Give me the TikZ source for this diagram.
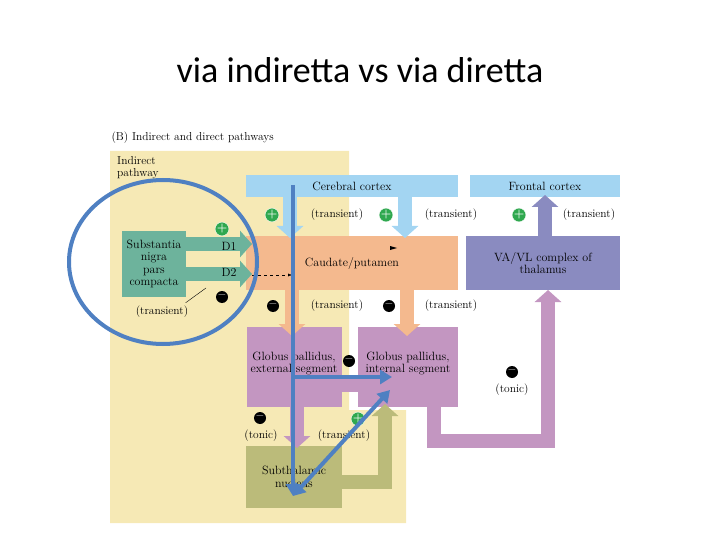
\documentclass[tikz,border=0pt]{standalone}
\usepackage{fontspec}
\newfontfamily\titlefont{Carlito}
\usetikzlibrary{arrows.meta,positioning}
\definecolor{cortexblue}{HTML}{A3D5F2}
\definecolor{caudate}{HTML}{F4B98E}
\definecolor{thal}{HTML}{8A8BC0}
\definecolor{gpcol}{HTML}{C396C1}
\definecolor{stncol}{HTML}{BBBB7A}
\definecolor{sncol}{HTML}{6DB39C}
\definecolor{bgyel}{HTML}{F6E9B5}
\definecolor{pen}{HTML}{4F80C2}
\definecolor{plusgreen}{HTML}{2FA84F}
\tikzset{
  box/.style={inner sep=0pt, align=center, font=\fontsize{12}{12.5}\selectfont},
  lbl/.style={font=\fontsize{11.5}{12}\selectfont},
  fat/.style={line width=14pt, -{Triangle[width=26pt,length=12pt]}},
  plus/.style={circle, fill=plusgreen, draw=white, inner sep=0pt, minimum size=12pt,
    font=\bfseries\fontsize{12}{12}\selectfont, text=white},
  minus/.style={circle, fill=black, inner sep=0pt, minimum size=12pt,
    font=\bfseries\fontsize{12}{12}\selectfont, text=white},
  penarrow/.style={pen, line width=4pt, -{Triangle[width=14pt,length=12pt]}}
}
\begin{document}
\begin{tikzpicture}[x=1pt,y=-1pt]
    \useasboundingbox (0,0) rectangle (720,540);
    \node[font=\titlefont\fontsize{36}{40}\selectfont] (title) at (360,70) {via indiretta vs via diretta};
    \node[anchor=west, font=\fontsize{11.5}{12}\selectfont] (head) at (108,138) {(B)\ Indirect and direct pathways};

    % background of the indirect pathway
    \fill[bgyel] (110,151) -- (349,151) -- (349,410) -- (406,410) -- (406,523) -- (110,523) -- cycle;
    \node[anchor=north west, align=left, lbl, inner sep=0pt] (ind) at (117,156) {Indirect\\pathway};

    % boxes
    \node[box, fill=cortexblue, minimum width=212pt, minimum height=22pt] (cc) at (352,186) {Cerebral cortex};
    \node[box, fill=cortexblue, minimum width=150pt, minimum height=22pt] (fc) at (545,186) {Frontal cortex};
    \node[box, fill=caudate, minimum width=212pt, minimum height=54pt] (cp) at (352,263) {Caudate/putamen};
    \node[box, fill=thal, minimum width=154pt, minimum height=54pt] (th) at (543,263) {VA/VL complex of\\thalamus};
    \node[box, fill=gpcol, minimum width=95pt, minimum height=80pt] (gpe) at (294,367) {\raisebox{16pt}{\begin{tabular}{@{}c@{}}Globus pallidus,\\external segment\end{tabular}}};
    \node[box, fill=gpcol, minimum width=100pt, minimum height=80pt] (gpi) at (408,367) {\raisebox{16pt}{\begin{tabular}{@{}c@{}}Globus pallidus,\\internal segment\end{tabular}}};
    \node[box, fill=stncol, minimum width=96pt, minimum height=62pt] (stn) at (294,477) {Subthalamic\\nucleus};
    \node[box, fill=sncol, minimum width=64pt, minimum height=66pt] (sn) at (154,264) {Substantia\\nigra\\pars\\compacta};

    % pathways
    \draw[fat, cortexblue] (290,197) -- (290,238);
    \draw[fat, cortexblue] (405,197) -- (405,238);
    \draw[fat, thal] (545,236) -- (545,195);
    \draw[fat, sncol] (185,244) -- (252,244);
    \draw[fat, sncol] (185,274) -- (252,274);
    \draw[fat, caudate] (292,290) -- (292,336);
    \draw[fat, caudate] (407,290) -- (407,336);
    \draw[fat, gpcol] (341,385) -- (370,385);
    \draw[fat, gpcol] (297,407) -- (297,448);
    \draw[line width=14pt, stncol] (342,482) -- (385,482) -- (385,418);
    \draw[-{Triangle[width=26pt,length=12pt]}, line width=14pt, stncol] (385,420) -- (385,404);
    \draw[line width=14pt, gpcol] (434,407) -- (434,441) -- (548,441) -- (548,310);
    \draw[-{Triangle[width=26pt,length=12pt]}, line width=14pt, gpcol] (548,312) -- (548,290);
    \draw[dashed, -{Latex[length=4pt]}] (252,275) -- (292,275);
    \fill (390,246) -- (397,248) -- (390,250) -- cycle;

    % labels
    \node[box] (d1) at (229,246) {D1};
    \node[box] (d2) at (229,272) {D2};
    \node[plus] (p1) at (222,229) {+};
    \node[plus] (p2) at (272,215) {+};
    \node[plus] (p3) at (386,215) {+};
    \node[plus] (p4) at (519,215) {+};
    \node[minus] (m1) at (222,297) {--};
    \node[minus] (m2) at (273,306) {--};
    \node[minus] (m3) at (389,306) {--};
    \node[minus] (m4) at (349,361) {--};
    \node[minus] (m5) at (512,372) {--};
    \node[minus] (m6) at (260,418) {--};
    \node[plus] (p5) at (358,419) {+};
    \node[lbl] (t1) at (337,215) {(transient)};
    \node[lbl] (t2) at (451,215) {(transient)};
    \node[lbl] (t3) at (589,215) {(transient)};
    \node[lbl] (t4) at (337,306) {(transient)};
    \node[lbl] (t5) at (451,306) {(transient)};
    \node[lbl] (t6) at (162,312) {(transient)};
    \node[lbl] (t7) at (344,436) {(transient)};
    \node[lbl] (to1) at (261,436) {(tonic)};
    \node[lbl] (to2) at (512,390) {(tonic)};
    \draw[thin] (t6.north east) ++(-6,0) -- (206,288);

    % annotations
    \draw[pen, line width=4pt] (163,262) ellipse (94pt and 82pt);
    \coordinate (top) at (293,185);
    \coordinate (bot) at (293,496);
    \coordinate (mid) at (293,377);
    \coordinate (gpin) at (392,377);
    \coordinate (diag) at (390,390);
    \draw[penarrow] (top) -- (bot);
    \draw[penarrow] (mid) -- (gpin);
    \draw[penarrow, {Triangle[width=14pt,length=12pt]}-{Triangle[width=14pt,length=12pt]}] (bot) -- (diag);
\end{tikzpicture}
\end{document}
